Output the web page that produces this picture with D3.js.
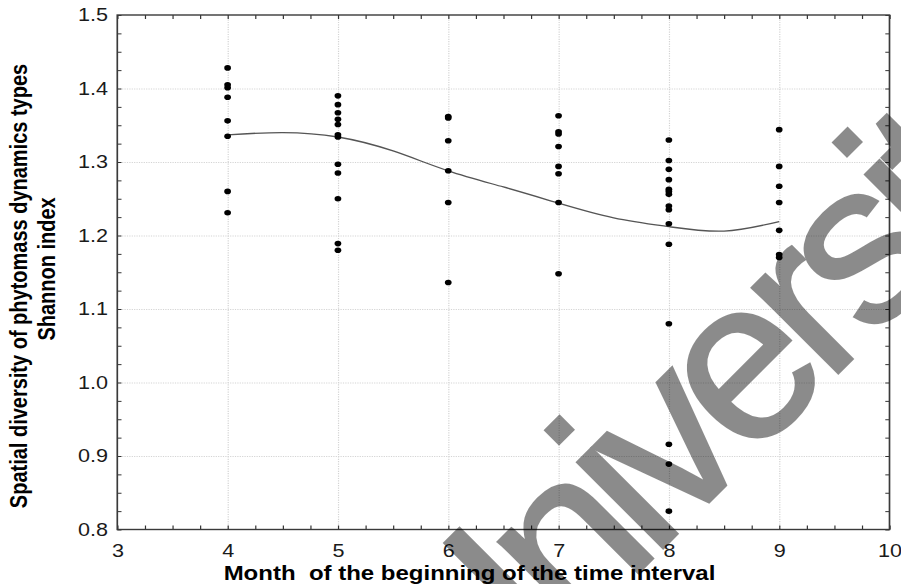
<!DOCTYPE html>
<html>
<head>
<meta charset="utf-8">
<script src="https://cdn.jsdelivr.net/npm/d3@7/dist/d3.min.js"></script>
<style>
  html, body { margin: 0; padding: 0; background: #fff; }
  svg { display: block; }
</style>
</head>
<body>
<svg id="chart" width="901" height="584"></svg>
<script>
// ---- data ----
const xTicks = [3, 4, 5, 6, 7, 8, 9, 10];
const yTicks = [0.8, 0.9, 1.0, 1.1, 1.2, 1.3, 1.4, 1.5];
const months = [4, 5, 6, 7, 8, 9];
const values4 = [1.428, 1.405, 1.401, 1.388, 1.356, 1.335, 1.260, 1.231];
const values5 = [1.390, 1.378, 1.367, 1.358, 1.351, 1.337, 1.334, 1.297, 1.285, 1.250, 1.189, 1.180];
const values6 = [1.362, 1.360, 1.329, 1.288, 1.245, 1.136];
const values7 = [1.363, 1.341, 1.338, 1.321, 1.294, 1.284, 1.245, 1.148];
const values8 = [1.330, 1.302, 1.290, 1.276, 1.263, 1.260, 1.256, 1.240, 1.235, 1.216, 1.188, 1.080, 0.916, 0.889, 0.825];
const values9 = [1.344, 1.294, 1.267, 1.245, 1.207, 1.174, 1.170];
const fitX = [4, 4.5, 5, 5.5, 6, 6.5, 7, 7.5, 8, 8.5, 9];
const fitY = [1.337, 1.340, 1.334, 1.315, 1.288, 1.266, 1.244, 1.224, 1.212, 1.206, 1.219];
const xTitle = "Month  of the beginning of the time interval";
const yTitle1 = "Spatial diversity of phytomass dynamics types";
const yTitle2 = "Shannon index";
const watermark = "University";

const seriesValues = [values4, values5, values6, values7, values8, values9];
const points = [];
months.forEach((m, i) => seriesValues[i].forEach(v => points.push({ x: m, y: v })));
const fit = fitX.map((x, i) => ({ x, y: fitY[i] }));

// ---- layout (inner figure is horizontally stretched like the reference) ----
const W = 901, H = 584, SX = 1.2;
const VW = W / SX;
const outer = d3.select("#chart");
const svg = outer.append("svg")
  .attr("x", 0).attr("y", 0).attr("width", W).attr("height", H)
  .attr("viewBox", `0 0 ${VW} ${H}`)
  .attr("preserveAspectRatio", "none");

const L = 117.3 / SX, R = 889.5 / SX, T = 15, B = 529.5;
const x = d3.scaleLinear().domain([3, 10]).range([L, R]);
const y = d3.scaleLinear().domain([0.8, 1.5]).range([B, T]);

const xMinor = d3.range(0, 29).map(i => 3 + i * 0.25);
const yMinor = d3.range(0, 29).map(i => 0.8 + i * 0.025);
const font = "'Liberation Sans', Arial, sans-serif";

// grid
const grid = svg.append("g");
grid.append("g").attr("transform", `translate(0,${B})`)
  .call(d3.axisBottom(x).tickValues(xTicks.slice(1, -1)).tickSize(-(B - T)).tickFormat(""))
  .call(g => g.select(".domain").remove())
  .selectAll("line").attr("stroke", "#d4d4d4").attr("stroke-width", 1).attr("stroke-dasharray", "1.2,1.2");
grid.append("g").attr("transform", `translate(${L},0)`)
  .call(d3.axisLeft(y).tickValues(yTicks.slice(1, -1)).tickSize(-(R - L)).tickFormat(""))
  .call(g => g.select(".domain").remove())
  .selectAll("line").attr("stroke", "#d4d4d4").attr("stroke-width", 1).attr("stroke-dasharray", "1,1");

// minor inward ticks on all sides
function ticksStyle(g) {
  g.select(".domain").remove();
  g.selectAll("line").attr("stroke", "#333").attr("stroke-width", 1);
}
svg.append("g").attr("transform", `translate(0,${B})`)
  .call(d3.axisBottom(x).tickValues(xMinor).tickSize(-4).tickFormat("")).call(ticksStyle);
svg.append("g").attr("transform", `translate(0,${T})`)
  .call(d3.axisTop(x).tickValues(xMinor).tickSize(-4).tickFormat("")).call(ticksStyle);
svg.append("g").attr("transform", `translate(${L},0)`)
  .call(d3.axisLeft(y).tickValues(yMinor).tickSize(-3.5).tickFormat("")).call(ticksStyle);
svg.append("g").attr("transform", `translate(${R},0)`)
  .call(d3.axisRight(y).tickValues(yMinor).tickSize(-3.5).tickFormat("")).call(ticksStyle);

// frame
svg.append("rect").attr("x", L).attr("y", T).attr("width", R - L).attr("height", B - T)
  .attr("fill", "none").attr("stroke", "#3a3a3a").attr("stroke-width", 1.4);

// tick labels
svg.append("g").attr("transform", `translate(0,${B})`)
  .call(d3.axisBottom(x).tickValues(xTicks).tickSize(0).tickPadding(14.5).tickFormat(d3.format("d")))
  .call(g => g.select(".domain").remove())
  .selectAll("text").attr("font-family", font).attr("font-size", 18).attr("fill", "#1a1a1a");
svg.append("g").attr("transform", `translate(${L},0)`)
  .call(d3.axisLeft(y).tickValues(yTicks).tickSize(0).tickPadding(L - 90).tickFormat(d3.format(".1f")))
  .call(g => g.select(".domain").remove())
  .selectAll("text").attr("font-family", font).attr("font-size", 18).attr("fill", "#1a1a1a");

// fitted curve
svg.append("path").datum(fit)
  .attr("fill", "none").attr("stroke", "#555").attr("stroke-width", 1.3)
  .attr("d", d3.line().x(d => x(d.x)).y(d => y(d.y)).curve(d3.curveNatural));

// points
svg.append("g").selectAll("circle").data(points).join("circle")
  .attr("cx", d => x(d.x)).attr("cy", d => y(d.y)).attr("r", 2.8).attr("fill", "#000");

// axis titles
svg.append("text").attr("x", 469.5 / SX).attr("y", 580)
  .attr("text-anchor", "middle").attr("font-family", font).attr("font-weight", "bold")
  .attr("font-size", 20).attr("fill", "#000").style("white-space", "pre").text(xTitle);
svg.append("text").attr("transform", `translate(${26.5 / SX},286) rotate(-90)`)
  .attr("text-anchor", "middle").attr("font-family", font).attr("font-weight", "bold")
  .attr("font-size", 20).attr("fill", "#000").text(yTitle1);
svg.append("text").attr("transform", `translate(${55 / SX},269) rotate(-90)`)
  .attr("text-anchor", "middle").attr("font-family", font).attr("font-weight", "bold")
  .attr("font-size", 20).attr("fill", "#000").text(yTitle2);

// watermark overlay (not stretched)
outer.append("g").attr("opacity", 0.45)
  .append("text").attr("transform", "translate(466.6,744.8) rotate(-45)")
  .attr("font-family", font)
  .attr("font-size", 230).attr("letter-spacing", -15.7)
  .attr("fill", "#000").attr("stroke", "#000").attr("stroke-width", 2.5)
  .attr("stroke-linejoin", "miter").text(watermark);
</script>
</body>
</html>
